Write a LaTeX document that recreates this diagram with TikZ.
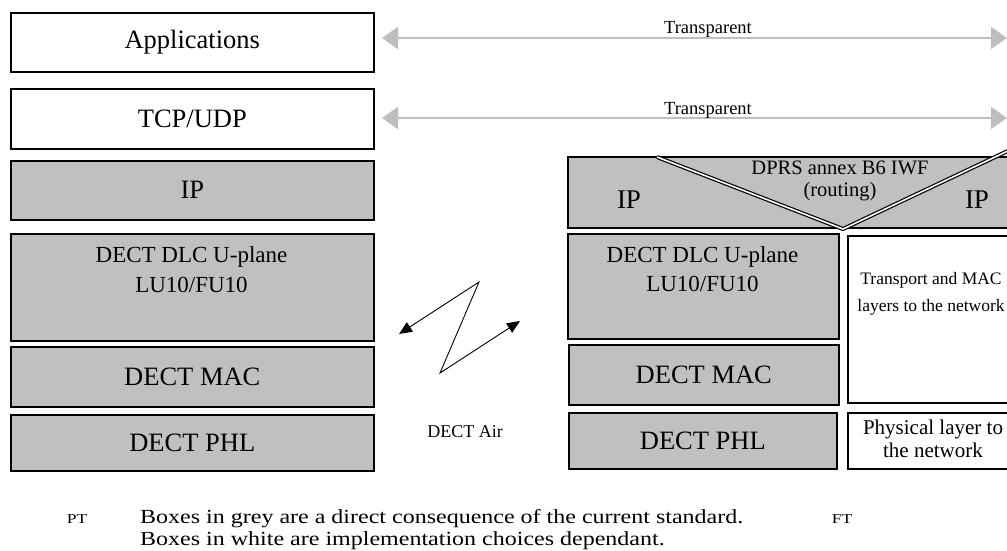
\documentclass[tikz,border=0pt]{standalone}
\usepackage{fontspec}
\setmainfont{Liberation Serif}
\usetikzlibrary{arrows.meta}

\definecolor{layergrey}{RGB}{192,192,192}
\definecolor{arrowgrey}{RGB}{190,190,190}
\newcommand{\setfs}[2]{\fontsize{#1}{#2}\selectfont}

\begin{document}
\begin{tikzpicture}[x=1pt,y=-1pt,
  layer/.style={draw, line width=1.6pt, inner sep=0pt, anchor=north west, font=\setfs{26.5}{30}},
  greylayer/.style={layer, fill=layergrey},
  whitelayer/.style={layer, fill=white},
  transp/.style={draw=arrowgrey, line width=1.8pt, {Triangle[length=16pt,width=22pt]}-{Triangle[length=16pt,width=22pt]}},
  airlink/.style={line width=0.9pt, {Triangle[length=13pt,width=11pt]}-{Triangle[length=13pt,width=11pt]}},
  iwfsplit/.style={line width=1.2pt, double=white, double distance=1.6pt},
  note/.style={inner sep=0pt, anchor=base west, font=\setfs{20}{22}}]
\useasboundingbox (0,0) rectangle (1007,551);

% PT stack
\node[whitelayer, minimum width=363pt, minimum height=59pt] (app) at (10,12) {Applications};
\node[whitelayer, minimum width=363pt, minimum height=60pt] (tcp) at (10,88) {TCP/UDP};
\node[greylayer, minimum width=363pt, minimum height=59pt] (ipPT) at (10,160) {IP};
\node[greylayer, minimum width=363pt, minimum height=107pt] (dlcPT) at (10,233) {};
\node[inner sep=0pt, align=center, font=\setfs{23}{30}] (dlcPTtext) at (191.5,270) {DECT DLC U-plane\\LU10/FU10};
\node[greylayer, minimum width=363pt, minimum height=60pt] (macPT) at (10,346) {DECT MAC};
\node[greylayer, minimum width=363pt, minimum height=56pt] (phlPT) at (10,414) {DECT PHL};

% FT stack
\fill[layergrey] (568,157) rectangle (1012,228);
\draw[line width=1.6pt] (568,157) rectangle (1012,228);
\coordinate (splitA) at (657,157);
\coordinate (splitB) at (843,229);
\coordinate (splitC) at (1012,149);
\draw[iwfsplit] (splitA) -- (splitB) -- (splitC);
\node[inner sep=0pt, font=\setfs{20.5}{25}] (iwf) at (840,168) {DPRS annex B6 IWF};
\node[inner sep=0pt, font=\setfs{20.5}{25}] (routing) at (840,192) {(routing)};
\node[inner sep=0pt, font=\setfs{27}{30}] (ipFTa) at (629,200) {IP};
\node[inner sep=0pt, font=\setfs{27}{30}] (ipFTb) at (977,200) {IP};

\node[greylayer, minimum width=271pt, minimum height=105pt] (dlcFT) at (567,233) {};
\node[inner sep=0pt, align=center, font=\setfs{23}{29}] (dlcFTtext) at (702.5,269) {DECT DLC U-plane\\LU10/FU10};
\node[greylayer, minimum width=270pt, minimum height=60pt] (macFT) at (568,344) {DECT MAC};
\node[greylayer, minimum width=268pt, minimum height=56pt] (phlFT) at (568,412) {DECT PHL};

\node[whitelayer, minimum width=165pt, minimum height=167pt] (netMAC) at (847,235) {};
\node[inner sep=0pt, align=center, font=\setfs{17.5}{27}] (netMACtext) at (931,294) {Transport and MAC\\layers to the network};
\node[whitelayer, minimum width=165pt, minimum height=56pt] (netPHL) at (847,412) {};
\node[inner sep=0pt, align=center, font=\setfs{21}{23}] (netPHLtext) at (933,439) {Physical layer to\\the network};

% transparent links
\coordinate (appL) at (382,38);
\coordinate (appR) at (1007,38);
\coordinate (tcpL) at (382,118);
\coordinate (tcpR) at (1007,118);
\draw[transp] (appL) -- (appR);
\draw[transp] (tcpL) -- (tcpR);
\node[inner sep=0pt, font=\setfs{18.5}{20}] (appLink) at (708,29) {Transparent};
\node[inner sep=0pt, font=\setfs{18.5}{20}] (tcpLink) at (708,110) {Transparent};

% air interface
\coordinate (airPT) at (399,334);
\coordinate (airTop) at (479,282);
\coordinate (airBot) at (440,373);
\coordinate (airFT) at (520,321);
\draw[airlink] (airPT) -- (airTop) -- (airBot) -- (airFT);
\node[inner sep=0pt, font=\setfs{18}{20}] (air) at (465,432) {DECT Air};

% legend
\node[inner sep=0pt, anchor=base, font=\setfs{13.5}{14}] (pt) at (77,523) {\scalebox{1.3}[1]{PT}};
\node[inner sep=0pt, anchor=base, font=\setfs{13.5}{14}] (ft) at (842,523) {\scalebox{1.3}[1]{FT}};
\node[note] (greyNote) at (140,523) {\scalebox{1.2}[1]{Boxes in grey are a direct consequence of the current standard.}};
\node[note] (whiteNote) at (140,545) {\scalebox{1.2}[1]{Boxes in white are implementation choices dependant.}};
\end{tikzpicture}
\end{document}
